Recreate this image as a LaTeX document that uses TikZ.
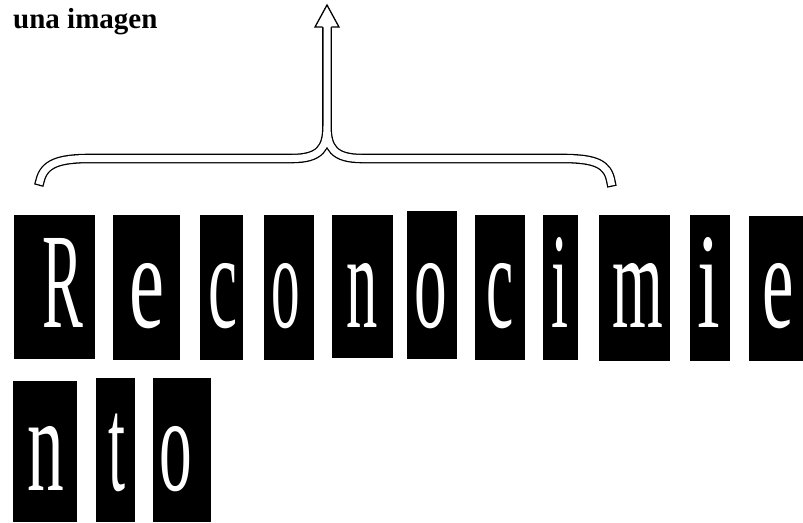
\documentclass[tikz,border=0pt]{standalone}
\usepackage{fontspec}
\setmainfont{Liberation Serif}
\usepackage{graphicx}
\tikzset{
  glyph/.style={text=white, inner sep=0pt, anchor=base, font=\fontsize{136}{136}\selectfont},
  bracepath/.style={draw=black, double=white, line width=1.3pt, double distance=7pt, line cap=rect},
  arrowtip/.style={fill=white, draw=black, line width=1.3pt, line join=miter},
  titletext/.style={font=\bfseries\fontsize{29}{29}\selectfont, anchor=base west, inner sep=0pt},
}
% x1, y1, x2, y2, ink centre x, baseline y, x-scale, letter, node name
\newcommand{\lettertile}[9]{%
  \fill[black] (#1,#2) rectangle (#3,#4);
  \node[glyph] (#9) at (#5,#6) {\scalebox{#7}[1]{#8}};
}
\begin{document}
\begin{tikzpicture}[x=1pt, y=-1pt]
\useasboundingbox (0,0) rectangle (803,522);

\node[titletext] (title) at (13,28) {una imagen};

% brace with upward arrow
\coordinate (ltip) at (40,181);
\coordinate (rtip) at (611,182);
\coordinate (junc) at (327,126);
\coordinate (stemtop) at (327,27);
\draw[bracepath] (ltip) .. controls (44,163) and (60,158.5) .. (90,158.5) -- (292,158.5)
   .. controls (320,158.5) and (327,148) .. (junc) -- (stemtop)
   (327,110) -- (junc) .. controls (327,148) and (334,158.5) .. (362,158.5) -- (562,158.5)
   .. controls (596,158.5) and (608,164) .. (rtip);
\filldraw[arrowtip] (322.6,27) -- (315,27) -- (327,5) -- (339,27) -- (331.4,27);

% first row
\lettertile{14}{215}{95}{359}{63}{327}{0.45}{R}{l1}
\lettertile{113}{215}{180}{360}{147}{327}{0.58}{e}{l2}
\lettertile{200}{215}{243}{360}{223}{327}{0.48}{c}{l3}
\lettertile{264}{215}{314}{360}{286}{327}{0.42}{o}{l4}
\lettertile{332}{215}{393}{358}{362}{327}{0.46}{n}{l5}
\lettertile{407}{211}{457}{359}{431}{327}{0.48}{o}{l6}
\lettertile{475}{215}{525}{360}{500}{327}{0.45}{c}{l7}
\lettertile{543}{215}{578}{360}{560}{327}{0.45}{i}{l8}
\lettertile{599}{215}{670}{361}{638}{327}{0.48}{m}{l9}
\lettertile{690}{215}{730}{361}{709}{327}{0.6}{i}{l10}
\lettertile{749}{216}{803}{361}{778}{327}{0.52}{e}{l11}

% second row
\lettertile{13}{381}{77}{522}{46}{490}{0.54}{n}{l12}
\lettertile{96}{378}{135}{522}{117}{490}{0.45}{t}{l13}
\lettertile{153}{378}{211}{522}{176}{490}{0.48}{o}{l14}
\end{tikzpicture}
\end{document}
